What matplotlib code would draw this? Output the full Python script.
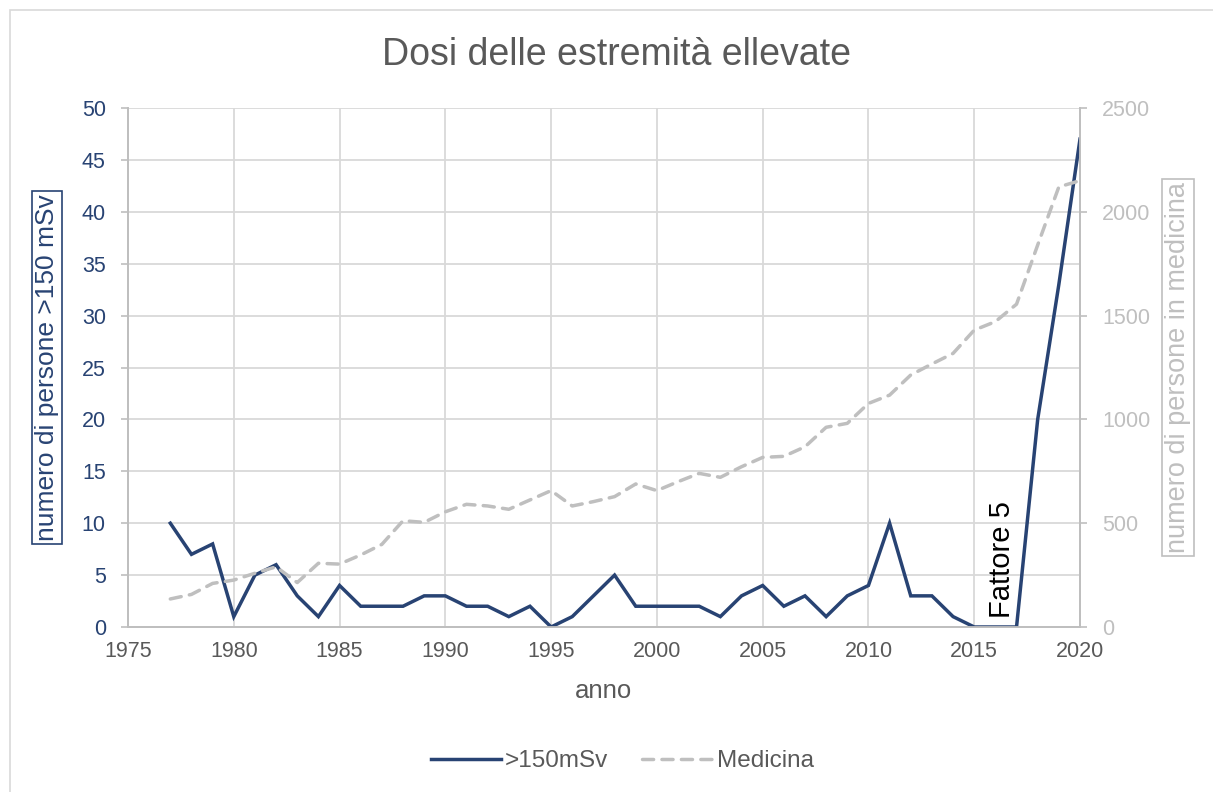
import matplotlib.pyplot as plt
from matplotlib.patches import Rectangle
from matplotlib.lines import Line2D

plt.rcParams['font.family'] = ['Liberation Sans', 'DejaVu Sans']

# ---------------------------------------------------------------------------
# Data
# ---------------------------------------------------------------------------

years = list(range(1977, 2021))

dose_150 = [10, 7, 8, 1, 5, 6, 3, 1, 4, 2,
            2, 2, 3, 3, 2, 2, 1, 2, 0, 1,
            3, 5, 2, 2, 2, 2, 1, 3, 4, 2,
            3, 1, 3, 4, 10, 3, 3, 1, 0, 0,
            0, 20, 33, 47]

medicina = [135, 157, 210, 226, 259, 290, 214, 307, 303, 347,
            398, 512, 504, 555, 591, 583, 567, 612, 657, 583,
            604, 628, 689, 657, 700, 740, 721, 772, 817, 822,
            868, 962, 981, 1077, 1117, 1214, 1267, 1318, 1430, 1471,
            1555, 1840, 2120, 2150]

x_ticks = [1975, 1980, 1985, 1990, 1995, 2000, 2005, 2010, 2015, 2020]
left_ticks = [0, 5, 10, 15, 20, 25, 30, 35, 40, 45, 50]
right_ticks = [0, 500, 1000, 1500, 2000, 2500]

# ---------------------------------------------------------------------------
# Styling
# ---------------------------------------------------------------------------

BLUE = "#284373"
GREY_LINE = "#BFBFBF"
GRID = "#D9D9D9"
TEXT = "#595959"
AXIS_GREY = "#BFBFBF"

fig = plt.figure(figsize=(12.13, 7.92), dpi=100)
ax = fig.add_axes([128 / 1213, 1 - 627 / 792, (1080 - 128) / 1213, (627 - 108) / 792])
ax2 = ax.twinx()

ax.plot(years, dose_150, color=BLUE, linewidth=2.5, solid_joinstyle="miter",
        label=">150mSv", zorder=3)
ax2.plot(years, medicina, color=GREY_LINE, linewidth=2.5,
         dashes=(3.2, 2.4), dash_capstyle="round", label="Medicina")

ax.set_xlim(1975, 2020)
ax.set_ylim(0, 50)
ax2.set_ylim(0, 2500)
ax.set_xticks(x_ticks)
ax.set_yticks(left_ticks)
ax2.set_yticks(right_ticks)

ax.grid(True, color=GRID, linewidth=1.3)
ax.set_axisbelow(True)

for a in (ax, ax2):
    a.spines["top"].set_visible(False)
    for side in ("left", "right", "bottom"):
        a.spines[side].set_color(AXIS_GREY)
        a.spines[side].set_linewidth(1.3)

ax.tick_params(axis="x", length=0, pad=10, labelsize=15.5, labelcolor=TEXT)
ax.tick_params(axis="y", length=5, width=1.2, color=AXIS_GREY, pad=11,
               labelsize=15.5, labelcolor=BLUE)
ax2.tick_params(axis="y", length=5, width=1.2, color=AXIS_GREY, pad=11,
                labelsize=15.5, labelcolor=GREY_LINE)

ax.set_xlabel("anno", fontsize=18.5, color=TEXT, labelpad=12)
ax.set_ylabel("numero di persone >150 mSv", fontsize=19, color=BLUE,
              bbox=dict(boxstyle="square,pad=0.12", fc="white", ec=BLUE, lw=1.2))
ax.yaxis.set_label_coords(-0.085, 0.5)
ax2.set_ylabel("numero di persone in medicina", fontsize=19.5, color=GREY_LINE,
               rotation=90,
               bbox=dict(boxstyle="square,pad=0.12", fc="white", ec=GREY_LINE, lw=1.2))
ax2.yaxis.set_label_coords(1.103, 0.5)
ax2.yaxis.label.set_va("center")
ax.yaxis.label.set_va("center")

ax.text(2016.3, 0.9, "Fattore 5", rotation=90, fontsize=21, color="black",
        ha="center", va="bottom", zorder=5)

fig.text(617 / 1213, 1 - 55 / 792, "Dosi delle estremità ellevate", fontsize=27,
         color=TEXT, ha="center", va="center")

handles = [Line2D([], [], color=BLUE, linewidth=2.5),
           Line2D([], [], color=GREY_LINE, linewidth=2.5, dashes=(3.2, 2.4),
                  dash_capstyle="round")]
leg = fig.legend(handles, [">150mSv", "Medicina"], loc="center",
                 bbox_to_anchor=(0.513, 1 - 761 / 792), ncol=2, frameon=False,
                 fontsize=17.5, handlelength=2.9, handletextpad=0.15,
                 columnspacing=1.4)
for t in leg.get_texts():
    t.set_color(TEXT)

# outer chart frame
fig.patches.append(Rectangle((10 / 1213, -0.1), 1.2, 1 - 10 / 792 + 0.1,
                             transform=fig.transFigure, fill=False,
                             edgecolor=GRID, linewidth=1.2))

fig.savefig("out.png", dpi=100)
